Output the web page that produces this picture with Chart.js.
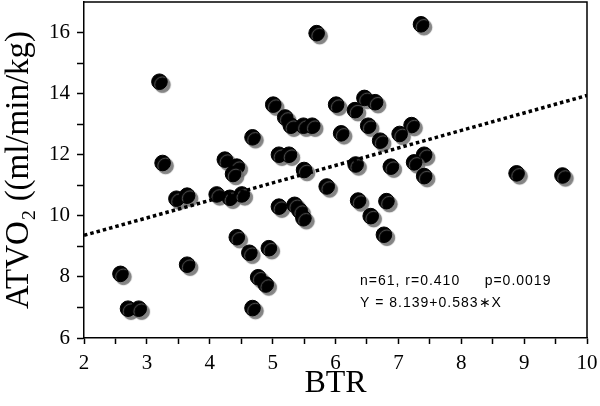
<!DOCTYPE html>
<html>
<head>
<meta charset="utf-8">
<script src="https://cdn.jsdelivr.net/npm/chart.js@4"></script>
<style>
  html, body { margin: 0; padding: 0; background: #fff; }
</style>
</head>
<body>
<canvas id="scatter" width="600" height="406"></canvas>
<script>
// BTR vs ATVO2
const btr = [5.70, 3.20, 5.01, 5.20, 5.29, 5.49, 5.63, 6.01, 6.31, 6.09,
  4.68, 3.25, 4.24, 4.43, 4.37, 5.10, 5.26, 5.50, 7.36, 6.46,
  6.63, 6.52, 6.71, 7.21, 7.02, 7.41, 7.25, 6.32, 6.88, 7.41,
  8.88, 9.61, 3.47, 3.64, 4.11, 4.32, 4.51, 5.86, 5.10, 5.35,
  5.43, 5.49, 4.43, 4.63, 4.94, 3.64, 2.58, 4.77, 4.89, 2.70,
  2.87, 4.68, 6.36, 6.81, 6.56, 6.77];
const atvo2 = [15.98, 14.39, 13.64, 13.22, 12.95, 12.95, 12.95, 13.64, 13.46, 12.70,
  12.57, 11.73, 11.84, 11.61, 11.37, 12.00, 12.00, 11.50, 16.27, 13.86,
  13.72, 12.95, 12.46, 12.97, 12.68, 12.00, 11.75, 11.68, 11.61, 11.30,
  11.39, 11.32, 10.56, 10.66, 10.70, 10.59, 10.70, 10.96, 10.30, 10.36,
  10.17, 9.92, 9.30, 8.79, 8.94, 8.40, 8.10, 7.99, 7.75, 6.96,
  6.96, 6.98, 10.50, 10.48, 9.99, 9.38];

const trendX = [2, 10];
const trendY = [9.36, 13.94];

const statsLines = ['n=61, r=0.410     p=0.0019', 'Y = 8.139+0.583\u2217X'];

const serif = "'Liberation Serif', 'Times New Roman', serif";

// gray drop shadow under the dots
const shadowPlugin = {
  id: 'dotShadow',
  beforeDatasetDraw(chart, args) {
    const ctx = chart.ctx;
    ctx.save();
    if (args.index === 1) {
      ctx.shadowColor = 'rgba(110,110,110,0.85)';
      ctx.shadowOffsetX = 3;
      ctx.shadowOffsetY = 3;
      ctx.shadowBlur = 1;
    }
  },
  afterDatasetDraw(chart) {
    chart.ctx.restore();
  }
};

// top/right frame and the stats text
const framePlugin = {
  id: 'frame',
  afterDraw(chart) {
    const { ctx, chartArea: a } = chart;
    ctx.save();
    ctx.strokeStyle = '#000';
    ctx.lineWidth = 1.5;
    ctx.beginPath();
    ctx.moveTo(a.left, a.top);
    ctx.lineTo(a.right, a.top);
    ctx.lineTo(a.right, a.bottom);
    ctx.stroke();
    ctx.fillStyle = '#000';
    ctx.font = "14px 'Liberation Sans', Arial, sans-serif";
    ctx.letterSpacing = '1px';
    ctx.textBaseline = 'alphabetic';
    ctx.fillText(statsLines[0], 360, 285);
    ctx.fillText(statsLines[1], 360, 307);
    ctx.restore();
  }
};

new Chart(document.getElementById('scatter'), {
  type: 'scatter',
  data: {
    datasets: [{
      type: 'line',
      data: trendX.map((x, i) => ({ x, y: trendY[i] })),
      borderColor: '#000',
      borderWidth: 3.5,
      borderDash: [3.5, 3],
      pointRadius: 0,
      fill: false
    }, {
      data: btr.map((x, i) => ({ x, y: atvo2[i] })),
      backgroundColor: '#000',
      borderColor: '#000',
      pointRadius: 7.8,
      pointHoverRadius: 7.8
    }]
  },
  plugins: [shadowPlugin, framePlugin],
  options: {
    responsive: false,
    animation: false,
    devicePixelRatio: 1,
    layout: { autoPadding: false, padding: { top: 2, right: 13, left: 0, bottom: 0 } },
    plugins: { legend: { display: false }, tooltip: { enabled: false } },
    scales: {
      x: {
        type: 'linear',
        min: 2,
        max: 10,
        afterFit: (s) => { s.height = 68; s.paddingLeft = 0; s.paddingRight = 0; },
        border: { color: '#000', width: 1.5 },
        grid: { drawOnChartArea: false, color: '#000', tickLength: 6, tickWidth: 1.5 },
        ticks: {
          stepSize: 0.5,
          color: '#000',
          padding: 7,
          maxRotation: 0,
          autoSkip: false,
          font: { family: serif, size: 21 },
          callback: (v) => Number.isInteger(v) ? String(v) : ''
        },
        title: {
          display: true,
          text: 'BTR',
          color: '#000',
          font: { family: serif, size: 32 },
          padding: { top: 0, bottom: 3 }
        }
      },
      y: {
        type: 'linear',
        min: 6,
        max: 17,
        afterFit: (s) => { s.width = 84; s.paddingTop = 0; s.paddingBottom = 0; },
        border: { color: '#000', width: 1.5 },
        grid: {
          drawOnChartArea: false,
          tickLength: 7,
          tickWidth: 1.5,
          color: (c) => (c.tick && c.tick.value === 17) ? 'rgba(0,0,0,0)' : '#000'
        },
        ticks: {
          stepSize: 1,
          color: '#000',
          padding: 7,
          autoSkip: false,
          font: { family: serif, size: 21 },
          callback: (v) => (v % 2 === 0 && v <= 16) ? String(v) : ''
        },
        title: {
          display: true,
          text: 'ATVO\u2082 ((ml/min/kg)',
          color: '#000',
          font: { family: serif, size: 33 },
          padding: { top: 0, bottom: 0 }
        }
      }
    }
  }
});
</script>
</body>
</html>
